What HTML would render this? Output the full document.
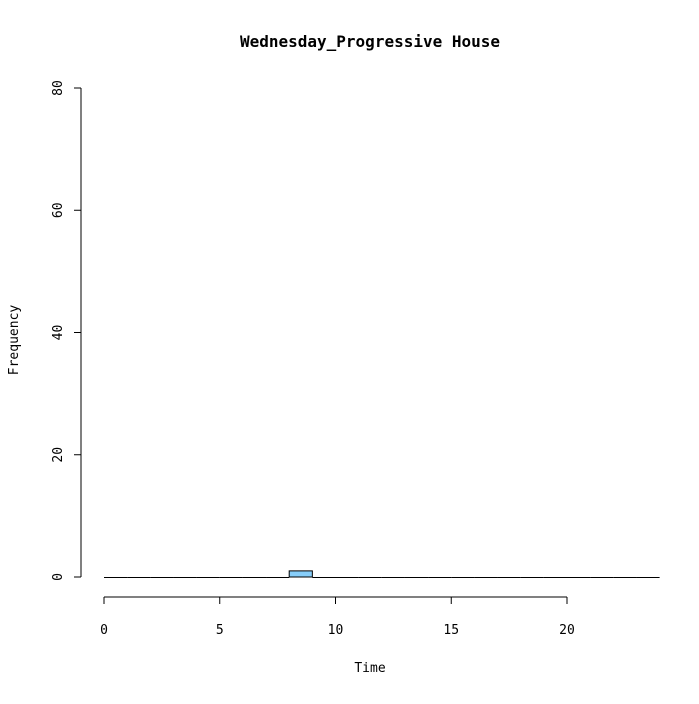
<!DOCTYPE html>
<html><head><meta charset="utf-8"><style>
body{margin:0;background:#fff}
svg text{font-family:"DejaVu Sans Mono","Liberation Mono",monospace;font-size:13px;fill:#000}
</style></head><body>
<svg width="699" height="699">
<text x="370" y="47" text-anchor="middle" style="font-weight:bold;font-size:16px">Wednesday_Progressive House</text>
<text x="370" y="672" text-anchor="middle">Time</text>
<text x="0" y="0" transform="translate(18,340) rotate(-90)" text-anchor="middle">Frequency</text>
<g id="bars"></g>
<g id="xaxis"></g>
<g id="yaxis"></g>
</svg>
<script>
const binEdges=[0,1,2,3,4,5,6,7,8,9,10,11,12,13,14,15,16,17,18,19,20,21,22,23,24];
const counts=[0,0,0,0,0,0,0,0,1,0,0,0,0,0,0,0,0,0,0,0,0,0,0,0];
const xTicks=[0,5,10,15,20];
const yTicks=[0,20,40,60,80];
const NS="http://www.w3.org/2000/svg";
const xs=v=>104+v*(567-104)/20;
const ys=v=>577-v*(577-88)/80;
function mk(tag,attrs,parent){const e=document.createElementNS(NS,tag);for(const k in attrs)e.setAttribute(k,attrs[k]);parent.appendChild(e);return e;}
const bars=document.getElementById('bars');
counts.forEach((c,i)=>{
 const x0=xs(binEdges[i]),x1=xs(binEdges[i+1]),y0=ys(0),y1=ys(c);
 let r;
 if(c===0){
  r=mk('line',{x1:x0,x2:x1,y1:y0+0.5,y2:y0+0.5,stroke:'#000','stroke-width':1},bars);
 }else{
  r=mk('rect',{x:x0,y:y1,width:x1-x0,height:y0-y1,fill:'#87CEFA',stroke:'#000','stroke-width':1},bars);
 }
 
 
});
const xa=document.getElementById('xaxis');
mk('line',{x1:xs(xTicks[0]),x2:xs(xTicks[xTicks.length-1]),y1:597,y2:597,stroke:'#000'},xa);
xTicks.forEach(t=>{
 mk('line',{x1:xs(t),x2:xs(t),y1:597,y2:604,stroke:'#000'},xa);
 const tx=mk('text',{x:xs(t),y:634,'text-anchor':'middle'},xa);tx.textContent=t;
 
 
});
const ya=document.getElementById('yaxis');
mk('line',{x1:81,x2:81,y1:ys(yTicks[0]),y2:ys(yTicks[yTicks.length-1]),stroke:'#000'},ya);
yTicks.forEach(t=>{
 mk('line',{x1:74,x2:81,y1:ys(t),y2:ys(t),stroke:'#000'},ya);
 const tx=mk('text',{x:0,y:0,'text-anchor':'middle',transform:`translate(62,${ys(t)}) rotate(-90)`},ya);tx.textContent=t;
 
 
});
</script>
</body></html>
